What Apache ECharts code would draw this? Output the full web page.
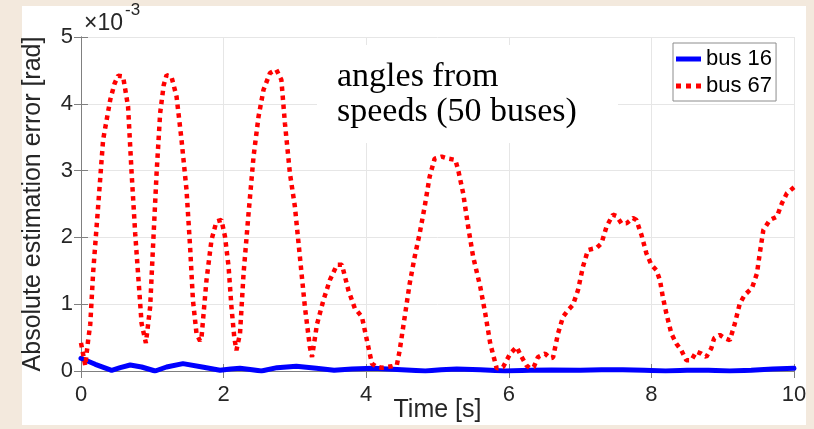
<!DOCTYPE html>
<html>
<head>
<meta charset="utf-8">
<script src="https://cdn.jsdelivr.net/npm/echarts@6/dist/echarts.min.js"></script>
<style>
  html, body { margin: 0; padding: 0; background: #f3e9dd; }
  #chart { width: 814px; height: 429px; }
</style>
</head>
<body>
<div id="chart"></div>
<script>
// Absolute angle estimation error, in units of 1e-3 rad
const timeTicks = [0, 2, 4, 6, 8, 10];
const errorTicks = [0, 1, 2, 3, 4, 5];

// bus 16 (solid blue)
const bus16Time = [0, 0.2, 0.43, 0.55, 0.69, 0.85, 1.04, 1.2, 1.43, 1.7, 1.95, 2.1, 2.23, 2.4, 2.53, 2.75, 3.02, 3.3, 3.55, 3.8, 4.1, 4.5, 4.83, 5.05, 5.27, 5.6, 5.95, 6.3, 6.6, 7.0, 7.3, 7.6, 7.9, 8.2, 8.5, 8.8, 9.1, 9.4, 9.7, 10];
const bus16Err = [0.19, 0.10, 0.01, 0.05, 0.09, 0.06, 0.0, 0.06, 0.11, 0.06, 0.01, 0.03, 0.04, 0.02, 0.0, 0.05, 0.07, 0.04, 0.01, 0.03, 0.04, 0.02, 0.0, 0.02, 0.03, 0.02, 0.0, 0.01, 0.015, 0.01, 0.02, 0.02, 0.01, 0.0, 0.01, 0.01, 0.0, 0.01, 0.03, 0.04];

// bus 67 (dotted red)
const bus67Time = [0.00, 0.03, 0.06, 0.10, 0.13, 0.17, 0.24, 0.31, 0.41, 0.47, 0.52, 0.59, 0.66, 0.71, 0.76, 0.80, 0.85, 0.91, 0.97,
  1.01, 1.06, 1.11, 1.16, 1.20, 1.27, 1.34, 1.41, 1.48, 1.53, 1.57, 1.62, 1.67, 1.69, 1.76, 1.83, 1.90, 1.97,
  2.02, 2.07, 2.11, 2.15, 2.18, 2.23, 2.28, 2.35, 2.42, 2.49, 2.56, 2.65, 2.74, 2.81, 2.86, 2.93,
  3.00, 3.07, 3.14, 3.21, 3.24, 3.31, 3.40, 3.49, 3.59, 3.66, 3.75, 3.84, 3.94,
  4.01, 4.08, 4.15, 4.22, 4.29, 4.36, 4.43, 4.47, 4.54, 4.61, 4.68, 4.75, 4.82, 4.89, 4.96,
  5.06, 5.15, 5.25, 5.29, 5.36, 5.43, 5.50, 5.60, 5.67, 5.74, 5.83, 5.92,
  6.02, 6.11, 6.18, 6.25, 6.30, 6.35, 6.41, 6.51, 6.58, 6.62, 6.69, 6.76, 6.83, 6.90, 6.97,
  7.04, 7.11, 7.18, 7.23, 7.30, 7.37, 7.46, 7.51, 7.58, 7.65, 7.74, 7.79, 7.86, 7.93,
  8.00, 8.07, 8.12, 8.16, 8.21, 8.28, 8.35, 8.42, 8.49, 8.56, 8.63, 8.70, 8.77, 8.84, 8.88, 8.96,
  9.03, 9.10, 9.17, 9.24, 9.31, 9.41, 9.48, 9.52, 9.57, 9.66, 9.76, 9.83, 9.90, 10.0];
const bus67Err = [0.42, 0.25, 0.08, 0.46, 0.70, 1.47, 2.46, 3.46, 4.06, 4.30, 4.42, 4.41, 3.96, 2.96, 2.06, 1.46, 0.71, 0.42, 0.96,
  1.86, 2.96, 3.86, 4.28, 4.43, 4.40, 4.11, 3.46, 2.71, 1.86, 1.06, 0.56, 0.45, 0.50, 1.36, 1.96, 2.24, 2.26,
  2.01, 1.56, 0.96, 0.50, 0.31, 0.56, 1.46, 2.36, 3.21, 3.81, 4.21, 4.46, 4.51, 4.36, 3.71, 2.96,
  2.46, 1.71, 0.96, 0.36, 0.21, 0.70, 1.06, 1.36, 1.59, 1.59, 1.21, 0.94, 0.81,
  0.46, 0.11, 0.06, 0.05, 0.06, 0.07, 0.09, 0.31, 0.81, 1.31, 1.71, 2.06, 2.46, 2.91, 3.18,
  3.21, 3.18, 3.16, 3.01, 2.66, 2.16, 1.71, 1.26, 0.86, 0.41, 0.04, 0.06,
  0.26, 0.36, 0.21, 0.08, 0.04, 0.06, 0.21, 0.26, 0.19, 0.20, 0.56, 0.81, 0.91, 0.99, 1.21,
  1.56, 1.81, 1.83, 1.84, 1.91, 2.16, 2.34, 2.32, 2.21, 2.21, 2.29, 2.26, 2.04, 1.76,
  1.59, 1.51, 1.36, 1.11, 0.86, 0.56, 0.41, 0.31, 0.16, 0.16, 0.29, 0.26, 0.21, 0.34, 0.49, 0.54,
  0.49, 0.46, 0.71, 1.01, 1.14, 1.24, 1.46, 1.76, 2.11, 2.26, 2.31, 2.51, 2.66, 2.75];

const seriesNames = ['bus 16', 'bus 67'];
const xLabel = 'Time [s]';
const yLabel = 'Absolute estimation error [rad]';
const annotationLines = ['angles from', 'speeds (50 buses)'];

const pairs = (xs, ys) => xs.map((x, i) => [x, ys[i]]);

const SANS = '"Liberation Sans", Arial, sans-serif';
const SERIF = '"Liberation Serif", "Times New Roman", serif';
const AXIS_GREY = '#808080';
const TEXT_DARK = '#262626';
const PAGE_BG = '#f3e9dd';

// legend swatches: a solid bar and a row of square dots
const SOLID_ICON = 'path://M0,0h25v5h-25z';
const DOTTED_ICON = 'path://M0,0h5v5h-5z M10,0h5v5h-5z M20,0h5v5h-5z';

const chart = echarts.init(document.getElementById('chart'), null, { renderer: 'canvas' });

const baseValueAxis = (ticks) => ({
  type: 'value',
  min: ticks[0],
  max: ticks[ticks.length - 1],
  interval: ticks[1] - ticks[0],
  axisLine: { show: true, lineStyle: { color: AXIS_GREY, width: 1 } },
  axisTick: { show: true, inside: true, length: 7, lineStyle: { color: AXIS_GREY } },
});

chart.setOption({
  animation: false,
  backgroundColor: PAGE_BG,
  grid: { left: 81, right: 20, top: 37, bottom: 58, containLabel: false, outerBoundsMode: 'none' },
  legend: {
    data: [
      { name: seriesNames[0], icon: SOLID_ICON, itemStyle: { color: '#0000ff' } },
      { name: seriesNames[1], icon: DOTTED_ICON, itemStyle: { color: '#ff0000' } },
    ],
    orient: 'vertical',
    left: 673,
    top: 43,
    padding: [5, 4, 4, 3],
    itemGap: 5,
    itemWidth: 25,
    itemHeight: 5,
    backgroundColor: '#ffffff',
    borderColor: '#8c8c8c',
    borderWidth: 1,
    borderRadius: 0,
    textStyle: { fontFamily: SANS, fontSize: 22, color: '#000000', lineHeight: 22 },
  },
  xAxis: [
    Object.assign(baseValueAxis(timeTicks), {
      position: 'bottom',
      name: xLabel,
      nameLocation: 'middle',
      nameGap: 27,
      nameMoveOverlap: false,
      nameTextStyle: { fontFamily: SANS, fontSize: 25, color: TEXT_DARK },
      axisLabel: { fontFamily: SANS, fontSize: 22, color: TEXT_DARK, margin: 13 },
      splitLine: { show: true, lineStyle: { color: '#e6e6e6', width: 1 } },
    }),
    Object.assign(baseValueAxis(timeTicks), {
      position: 'top',
      axisLabel: { show: false },
      splitLine: { show: false },
    }),
  ],
  yAxis: [
    Object.assign(baseValueAxis(errorTicks), {
      position: 'left',
      name: yLabel,
      nameLocation: 'middle',
      nameGap: 35,
      nameMoveOverlap: false,
      nameTextStyle: { fontFamily: SANS, fontSize: 25, color: TEXT_DARK },
      axisLabel: { fontFamily: SANS, fontSize: 22, color: TEXT_DARK, margin: 8 },
      splitLine: { show: true, lineStyle: { color: '#e6e6e6', width: 1 } },
    }),
    Object.assign(baseValueAxis(errorTicks), {
      position: 'right',
      axisLabel: { show: false },
      splitLine: { show: false },
    }),
  ],
  series: [
    {
      name: seriesNames[0],
      type: 'line',
      data: pairs(bus16Time, bus16Err),
      showSymbol: false,
      symbol: 'none',
      smooth: false,
      lineStyle: { color: '#0000ff', width: 5, cap: 'round', join: 'round' },
      itemStyle: { color: '#0000ff' },
      z: 2,
    },
    {
      name: seriesNames[1],
      type: 'line',
      data: pairs(bus67Time, bus67Err),
      showSymbol: false,
      symbol: 'none',
      smooth: false,
      lineStyle: { color: '#ff0000', width: 4.5, type: [4.5, 4.5], cap: 'butt' },
      itemStyle: { color: '#ff0000' },
      z: 3,
    },
  ],
  graphic: [
    // white figure panel
    { type: 'rect', z: -10, silent: true, shape: { x: 22, y: 6, width: 784, height: 419 }, style: { fill: '#ffffff' } },
    // annotation box with opaque background over the grid lines
    { type: 'rect', z: 1, silent: true, shape: { x: 317, y: 45, width: 301, height: 98 }, style: { fill: '#ffffff' } },
    { type: 'text', z: 1, silent: true, x: 337, y: 77, style: { text: annotationLines[0], font: '34px ' + SERIF, fill: '#000000', verticalAlign: 'middle' } },
    { type: 'text', z: 1, silent: true, x: 337, y: 112, style: { text: annotationLines[1], font: '34px ' + SERIF, fill: '#000000', verticalAlign: 'middle' } },
    // axis exponent
    { type: 'text', z: 5, silent: true, x: 84, y: 24, style: { text: '×10', font: '23px ' + SANS, fill: TEXT_DARK, verticalAlign: 'middle' } },
    { type: 'text', z: 5, silent: true, x: 125, y: 10, style: { text: '-3', font: '17px ' + SANS, fill: TEXT_DARK, verticalAlign: 'middle' } },
    // right margin of the page
    { type: 'rect', z: 100, silent: true, shape: { x: 806, y: 0, width: 8, height: 429 }, style: { fill: PAGE_BG } },
  ],
});
</script>
</body>
</html>
